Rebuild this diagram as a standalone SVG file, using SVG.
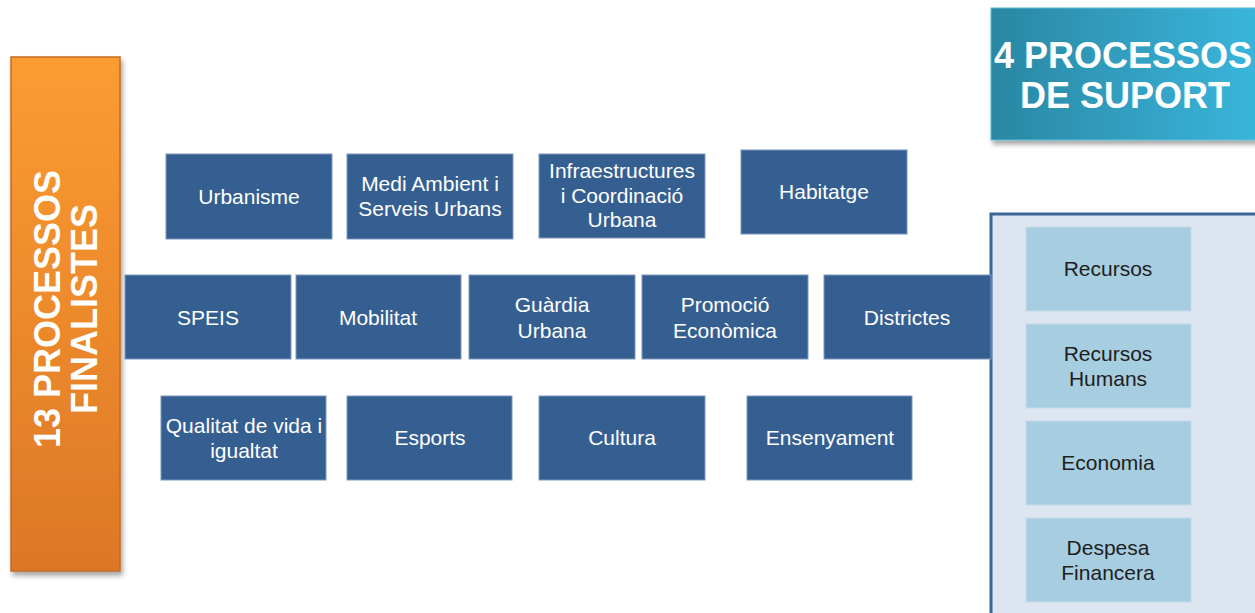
<svg xmlns="http://www.w3.org/2000/svg" width="1255" height="613" viewBox="0 0 1255 613">
<style>
.bx{fill:#365f91;stroke:#7d98c0;stroke-width:1}
.lb{fill:#a7cde0;stroke:#c4dcea;stroke-width:1}
.t{font-family:"Liberation Sans",Arial,sans-serif;font-size:21px;fill:#ffffff;text-anchor:middle}
.d{font-family:"Liberation Sans",Arial,sans-serif;font-size:21px;fill:#1e1e1e;text-anchor:middle}
.h{font-family:"Liberation Sans",Arial,sans-serif;font-weight:bold;font-size:36px;fill:#ffffff;text-anchor:middle}
</style>
<defs>
<linearGradient id="og" x1="0" y1="0" x2="0" y2="1">
<stop offset="0" stop-color="#fc9c31"/>
<stop offset="1" stop-color="#dd7727"/>
</linearGradient>
<linearGradient id="bg" x1="0" y1="0" x2="1" y2="0">
<stop offset="0" stop-color="#2a87a3"/>
<stop offset="1" stop-color="#3ab6dc"/>
</linearGradient>
<filter id="sh" x="-10%" y="-10%" width="130%" height="130%">
<feDropShadow dx="2" dy="4" stdDeviation="2.5" flood-color="#000" flood-opacity="0.35"/>
</filter>
</defs>
<rect width="1255" height="613" fill="#ffffff"/>

<g id="finalistes">
<rect x="11" y="57" width="109" height="514" fill="url(#og)" stroke="#c56a22" stroke-width="1.5" filter="url(#sh)"/>
<text class="h" transform="translate(60,309) rotate(-90)" x="0" y="0">13 PROCESSOS</text>
<text class="h" transform="translate(97,309) rotate(-90)" x="0" y="0">FINALISTES</text>
</g>

<g id="suport-title">
<rect x="991" y="8" width="270" height="132" fill="url(#bg)" stroke="#5cbcd8" stroke-width="1" filter="url(#sh)"/>
<text class="h" x="1123" y="68">4 PROCESSOS</text>
<text class="h" x="1125" y="108">DE SUPORT</text>
</g>

<g id="suport-panel">
<rect x="991" y="214" width="270" height="405" fill="#dde5f0" stroke="#3b6595" stroke-width="3"/>
</g>

<g id="connectors"></g>

<g id="urbanisme"><rect class="bx" x="166" y="154" width="166" height="85"/><text class="t" x="249" y="204">Urbanisme</text></g>
<g id="medi-ambient"><rect class="bx" x="347" y="154" width="166" height="85"/><text class="t" x="430" y="191">Medi Ambient i</text><text class="t" x="430" y="216">Serveis Urbans</text></g>
<g id="infraestructures"><rect class="bx" x="539" y="154" width="166" height="84"/><text class="t" x="622" y="178">Infraestructures</text><text class="t" x="622" y="203">i Coordinació</text><text class="t" x="622" y="227">Urbana</text></g>
<g id="habitatge"><rect class="bx" x="741" y="150" width="166" height="84"/><text class="t" x="824" y="199">Habitatge</text></g>

<g id="speis"><rect class="bx" x="125" y="275" width="166" height="84"/><text class="t" x="208" y="325">SPEIS</text></g>
<g id="mobilitat"><rect class="bx" x="296" y="275" width="165" height="84"/><text class="t" x="378" y="325">Mobilitat</text></g>
<g id="guardia"><rect class="bx" x="469" y="275" width="166" height="84"/><text class="t" x="552" y="312">Guàrdia</text><text class="t" x="552" y="338">Urbana</text></g>
<g id="promocio"><rect class="bx" x="642" y="275" width="166" height="84"/><text class="t" x="725" y="312">Promoció</text><text class="t" x="725" y="338">Econòmica</text></g>
<g id="districtes"><rect class="bx" x="824" y="275" width="167" height="84"/><text class="t" x="907" y="325">Districtes</text></g>

<g id="qualitat"><rect class="bx" x="161" y="396" width="165" height="84"/><text class="t" x="244" y="433">Qualitat de vida i</text><text class="t" x="244" y="458">igualtat</text></g>
<g id="esports"><rect class="bx" x="347" y="396" width="165" height="84"/><text class="t" x="430" y="445">Esports</text></g>
<g id="cultura"><rect class="bx" x="539" y="396" width="166" height="84"/><text class="t" x="622" y="445">Cultura</text></g>
<g id="ensenyament"><rect class="bx" x="747" y="396" width="165" height="84"/><text class="t" x="830" y="445">Ensenyament</text></g>

<g id="recursos"><rect class="lb" x="1026" y="227" width="165" height="84"/><text class="d" x="1108" y="276">Recursos</text></g>
<g id="recursos-humans"><rect class="lb" x="1026" y="324" width="165" height="84"/><text class="d" x="1108" y="361">Recursos</text><text class="d" x="1108" y="386">Humans</text></g>
<g id="economia"><rect class="lb" x="1026" y="421" width="165" height="84"/><text class="d" x="1108" y="470">Economia</text></g>
<g id="despesa"><rect class="lb" x="1026" y="518" width="165" height="84"/><text class="d" x="1108" y="555">Despesa</text><text class="d" x="1108" y="580">Financera</text></g>
</svg>
